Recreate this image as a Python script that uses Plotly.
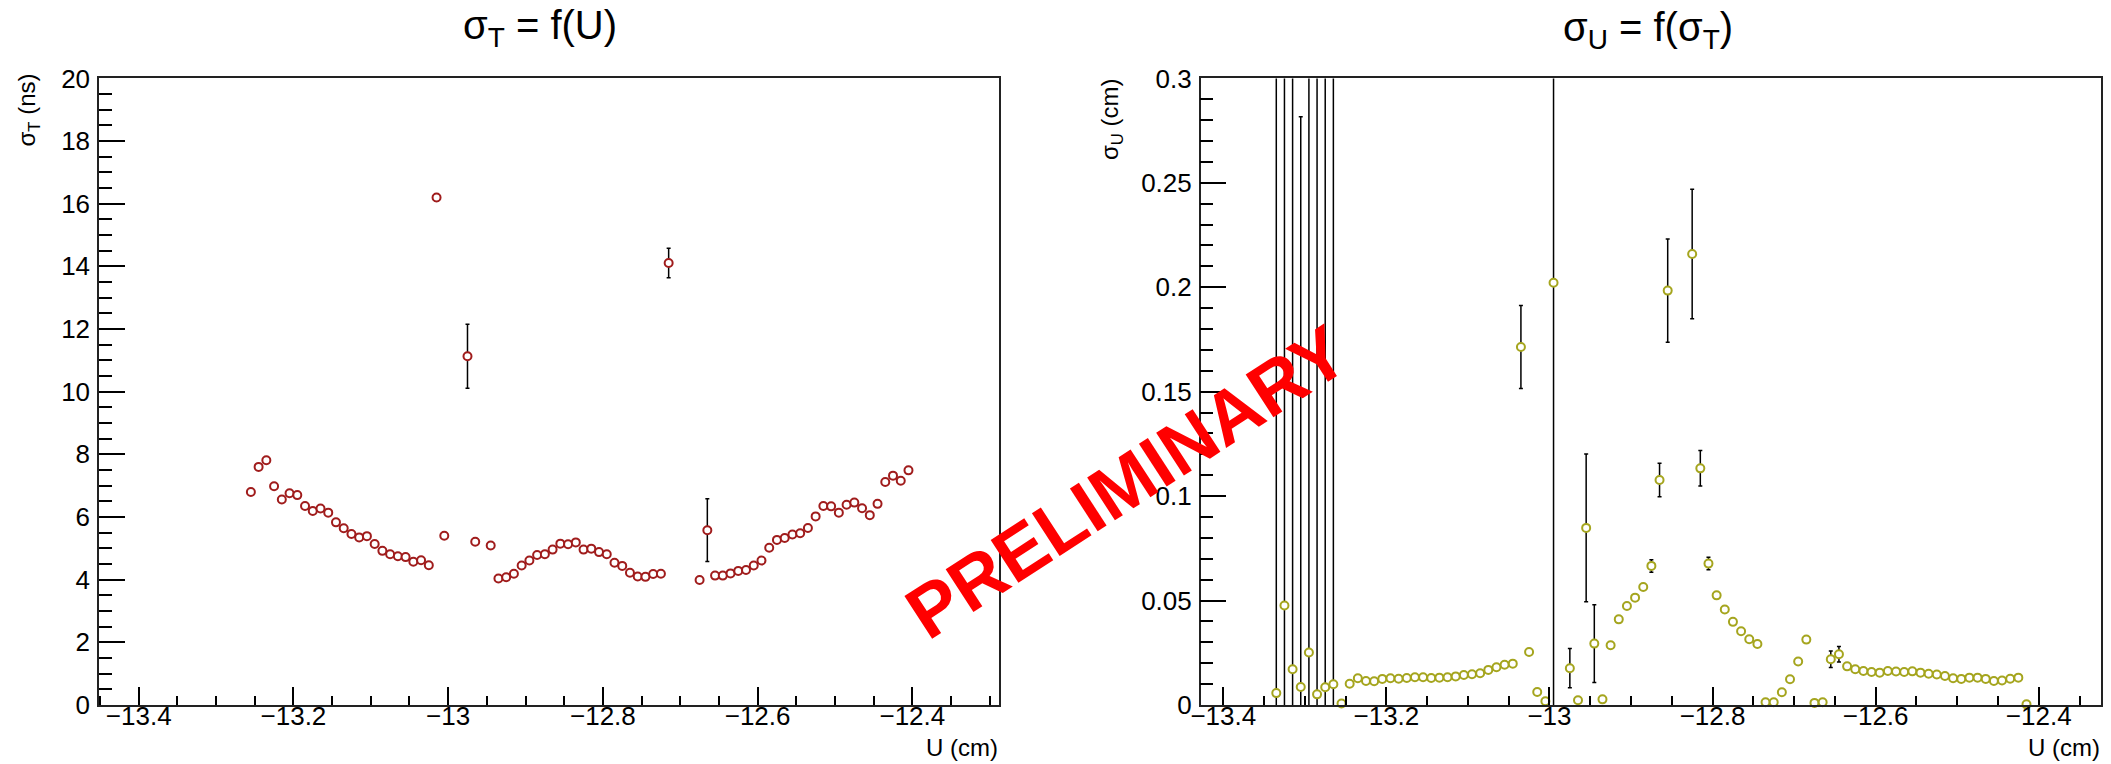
import plotly.graph_objects as go

# ---------------- data: left panel  sigma_T = f(U) ----------------
left_u = [-13.255, -13.245, -13.235, -13.225, -13.215, -13.205, -13.195, -13.185, -13.175, -13.165,
          -13.155, -13.145, -13.135, -13.125, -13.115, -13.105, -13.095, -13.085, -13.075, -13.065,
          -13.055, -13.045, -13.035, -13.025, -13.015, -13.005, -12.975, -12.965, -12.945,
          -12.935, -12.925, -12.915, -12.905, -12.895, -12.885, -12.875, -12.865, -12.855, -12.845,
          -12.835, -12.825, -12.815, -12.805, -12.795, -12.785, -12.775, -12.765, -12.755, -12.745,
          -12.735, -12.725, -12.715, -12.675, -12.665,
          -12.655, -12.645, -12.635, -12.625, -12.615, -12.605, -12.595, -12.585, -12.575, -12.565,
          -12.555, -12.545, -12.535, -12.525, -12.515, -12.505, -12.495, -12.485, -12.475, -12.465,
          -12.455, -12.445, -12.435, -12.425, -12.415, -12.405]
left_sigma_t = [6.80, 7.60, 7.81, 6.98, 6.56, 6.76, 6.70, 6.35, 6.19, 6.27,
                6.14, 5.83, 5.64, 5.46, 5.35, 5.39, 5.14, 4.92, 4.81, 4.75,
                4.72, 4.57, 4.62, 4.46, 16.20, 5.40, 11.13, 5.21, 5.09,
                4.04, 4.08, 4.19, 4.45, 4.61, 4.79, 4.81, 4.96, 5.15, 5.13,
                5.19, 4.96, 4.99, 4.88, 4.81, 4.54, 4.44, 4.22, 4.10, 4.09,
                4.18, 4.19, 14.11, 3.99, 5.58,
                4.13, 4.13, 4.20, 4.28, 4.31, 4.45, 4.61, 5.02, 5.27, 5.33,
                5.44, 5.48, 5.65, 6.02, 6.35, 6.34, 6.14, 6.39, 6.46, 6.28,
                6.06, 6.42, 7.12, 7.32, 7.16, 7.49]
left_err = [0, 0, 0, 0, 0, 0, 0, 0, 0, 0,
            0, 0, 0, 0, 0, 0, 0, 0, 0, 0,
            0, 0, 0, 0, 0.12, 0, 1.02, 0, 0,
            0, 0, 0, 0, 0, 0, 0, 0, 0, 0,
            0, 0, 0, 0, 0, 0, 0, 0, 0, 0,
            0, 0, 0.47, 0, 1.0,
            0, 0, 0, 0, 0, 0, 0, 0, 0, 0,
            0, 0, 0, 0, 0, 0, 0, 0, 0, 0,
            0, 0, 0, 0, 0, 0.1]

# ---------------- data: right panel  sigma_U = f(sigma_T) ----------------
right_u = [-13.335, -13.325, -13.315, -13.305, -13.295, -13.285, -13.275, -13.265, -13.255, -13.245,
           -13.235, -13.225, -13.215, -13.205, -13.195, -13.185, -13.175, -13.165, -13.155, -13.145,
           -13.135, -13.125, -13.115, -13.105, -13.095, -13.085, -13.075, -13.065, -13.055, -13.045,
           -13.035, -13.025, -13.015, -13.005, -12.995, -12.975, -12.965, -12.955, -12.945, -12.935,
           -12.925, -12.915, -12.905, -12.895, -12.885, -12.875, -12.865, -12.855, -12.825, -12.815,
           -12.805, -12.795, -12.785, -12.775, -12.765, -12.755, -12.745, -12.735, -12.725, -12.715,
           -12.705, -12.695, -12.685, -12.675, -12.665, -12.655, -12.645, -12.635, -12.625, -12.615,
           -12.605, -12.595, -12.585, -12.575, -12.565, -12.555, -12.545, -12.535, -12.525, -12.515,
           -12.505, -12.495, -12.485, -12.475, -12.465, -12.455, -12.445, -12.435, -12.425, -12.415]
right_sigma_u = [0.0057, 0.0476, 0.0171, 0.0086, 0.0251, 0.0051, 0.0085, 0.0099, 0.0007, 0.0102,
                 0.0128, 0.0115, 0.0114, 0.0125, 0.0128, 0.0126, 0.0129, 0.0133, 0.0133, 0.0129,
                 0.0131, 0.0133, 0.0137, 0.0144, 0.0147, 0.0152, 0.0168, 0.0181, 0.0193, 0.0198,
                 0.1714, 0.0254, 0.0062, 0.0018, 0.2022, 0.0176, 0.0023, 0.0848, 0.0294, 0.0027,
                 0.0286, 0.0410, 0.0474, 0.0514, 0.0565, 0.0666, 0.1077, 0.1984, 0.2159, 0.1133,
                 0.0677, 0.0525, 0.0457, 0.0398, 0.0353, 0.0315, 0.0292, 0.0013, 0.0013, 0.0061,
                 0.0123, 0.0208, 0.0313, 0.0010, 0.0013, 0.0219, 0.0243, 0.0185, 0.0171, 0.0163,
                 0.0158, 0.0155, 0.0163, 0.0160, 0.0158, 0.0161, 0.0155, 0.0150, 0.0146, 0.0139,
                 0.0128, 0.0125, 0.0131, 0.0131, 0.0125, 0.0115, 0.0117, 0.0126, 0.0131, 0.0003]
right_err = [1.0, 1.0, 1.0, 0.273, 1.0, 1.0, 1.0, 1.0, 0, 0,
             0, 0, 0, 0, 0, 0, 0, 0, 0, 0,
             0, 0, 0, 0, 0, 0, 0, 0, 0, 0,
             0.0199, 0, 0, 0, 1.0, 0.0094, 0, 0.0354, 0.0186, 0,
             0, 0, 0, 0, 0.0015, 0.003, 0.008, 0.0247, 0.031, 0.0085,
             0.003, 0.0015, 0, 0, 0, 0, 0, 0, 0, 0,
             0, 0, 0, 0, 0, 0.004, 0.0037, 0, 0, 0,
             0, 0, 0, 0, 0, 0, 0, 0, 0, 0,
             0, 0, 0, 0, 0, 0, 0, 0, 0, 0]

# ---------------- tick labels ----------------
x_tickvals = [-13.4, -13.2, -13.0, -12.8, -12.6, -12.4]
x_ticktext = ["\u221213.4", "\u221213.2", "\u221213", "\u221212.8", "\u221212.6", "\u221212.4"]
left_y_tickvals = [0, 2, 4, 6, 8, 10, 12, 14, 16, 18, 20]
left_y_ticktext = ["0", "2", "4", "6", "8", "10", "12", "14", "16", "18", "20"]
right_y_tickvals = [0, 0.05, 0.1, 0.15, 0.2, 0.25, 0.3]
right_y_ticktext = ["0", "0.05", "0.1", "0.15", "0.2", "0.25", "0.3"]

# ---------------- styling / layout ----------------
W, H = 2111, 764
FONT = "Liberation Sans, Arial, Helvetica, sans-serif"
RED = "#a01c1c"
OLIVE = "#a5a51e"

def px_x(p):
    return p / W

def px_y(p):
    return 1 - p / H

fig = go.Figure()

def add_series(x, y, err, color, xa, ya):
    # error bars (clipped to the frame)
    fig.add_trace(go.Scatter(
        x=x, y=y, mode="markers", xaxis=xa, yaxis=ya,
        marker=dict(size=2, opacity=0),
        error_y=dict(type="data", array=err, visible=True, color="black",
                     thickness=1.5, width=2),
        cliponaxis=True, showlegend=False, hoverinfo="skip"))
    # open circle markers drawn on top
    fig.add_trace(go.Scatter(
        x=x, y=y, mode="markers", xaxis=xa, yaxis=ya,
        marker=dict(symbol="circle", size=8, color="white",
                    line=dict(color=color, width=2)),
        cliponaxis=False, showlegend=False))

add_series(left_u, left_sigma_t, left_err, RED, "x", "y")
add_series(right_u, right_sigma_u, right_err, OLIVE, "x2", "y2")

ydom = [px_y(705), px_y(78.4)]

def xaxis_cfg(dom, rng, anchor):
    return dict(domain=dom, range=rng, anchor=anchor, automargin=False,
                tickmode="array", tickvals=x_tickvals, ticktext=x_ticktext,
                ticks="inside", ticklen=18, tickwidth=1.5, tickcolor="black",
                minor=dict(tickmode="linear", tick0=-13.4, dtick=0.05, ticks="inside",
                           ticklen=9, tickwidth=1.5, tickcolor="black", showgrid=False),
                showline=True, mirror=True, linecolor="#222", linewidth=1.5,
                showgrid=False, zeroline=False, ticklabelstandoff=-13,
                tickfont=dict(family=FONT, size=26, color="black"))

def yaxis_cfg(rng, anchor, tv, tt, minor_dt):
    return dict(domain=ydom, range=rng, anchor=anchor, automargin=False,
                tickmode="array", tickvals=tv, ticktext=tt,
                ticks="inside", ticklen=26, tickwidth=1.5, tickcolor="black",
                minor=dict(tickmode="linear", tick0=0, dtick=minor_dt, ticks="inside",
                           ticklen=13, tickwidth=1.5, tickcolor="black", showgrid=False),
                showline=True, mirror=True, linecolor="#222", linewidth=1.5,
                showgrid=False, zeroline=False, ticklabelstandoff=2,
                tickfont=dict(family=FONT, size=26, color="black"))

annotations = [
    # panel titles
    dict(text="\u03c3<sub>T</sub> = f(U)", x=px_x(540), y=px_y(28), xref="paper", yref="paper",
         xanchor="center", yanchor="middle", showarrow=False,
         font=dict(family=FONT, size=40, color="black")),
    dict(text="\u03c3<sub>U</sub> = f(\u03c3<sub>T</sub>)", x=px_x(1648), y=px_y(30), xref="paper", yref="paper",
         xanchor="center", yanchor="middle", showarrow=False,
         font=dict(family=FONT, size=40, color="black")),
    # y axis titles (top aligned, ROOT style)
    dict(text="\u03c3<sub>T</sub> (ns)", x=px_x(28), y=px_y(72), xref="paper", yref="paper",
         xanchor="center", yanchor="top", textangle=-90, showarrow=False,
         font=dict(family=FONT, size=24, color="black")),
    dict(text="\u03c3<sub>U</sub> (cm)", x=px_x(1112), y=px_y(76), xref="paper", yref="paper",
         xanchor="center", yanchor="top", textangle=-90, showarrow=False,
         font=dict(family=FONT, size=24, color="black")),
    # x axis titles (right aligned)
    dict(text="U (cm)", x=px_x(1000), y=px_y(747), xref="paper", yref="paper",
         xanchor="right", yanchor="middle", showarrow=False,
         font=dict(family=FONT, size=24, color="black")),
    dict(text="U (cm)", x=px_x(2102), y=px_y(747), xref="paper", yref="paper",
         xanchor="right", yanchor="middle", showarrow=False,
         font=dict(family=FONT, size=24, color="black")),
    # watermark
    dict(text="<b>PRELIMINARY</b>", x=px_x(1126), y=px_y(482), xref="paper", yref="paper",
         xanchor="center", yanchor="middle", textangle=-33, showarrow=False,
         font=dict(family=FONT, size=74, color="#ff0000")),
]

fig.update_layout(
    template="none",
    width=W, height=H,
    margin=dict(l=0, r=0, t=0, b=0, autoexpand=False),
    paper_bgcolor="white", plot_bgcolor="white",
    showlegend=False,
    xaxis=xaxis_cfg([px_x(99), px_x(999)], [-13.4513, -12.288], "y"),
    yaxis=yaxis_cfg([0, 20], "x", left_y_tickvals, left_y_ticktext, 0.5),
    xaxis2=xaxis_cfg([px_x(1200.7), px_x(2100.7)], [-13.4277, -12.324], "y2"),
    yaxis2=yaxis_cfg([0, 0.3], "x2", right_y_tickvals, right_y_ticktext, 0.01),
    annotations=annotations,
)

fig.write_html("out.html")
